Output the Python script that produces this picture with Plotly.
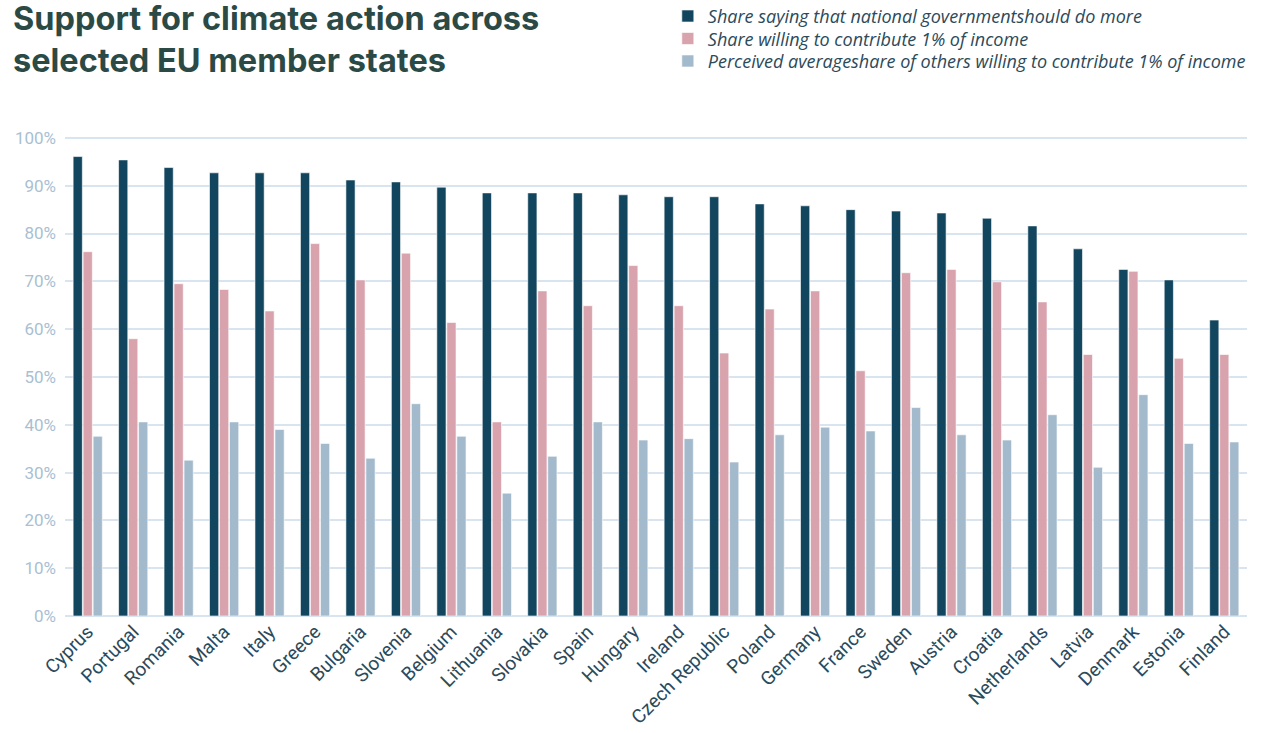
import plotly.graph_objects as go

countries = ["Cyprus", "Portugal", "Romania", "Malta", "Italy", "Greece", "Bulgaria",
             "Slovenia", "Belgium", "Lithuania", "Slovakia", "Spain", "Hungary", "Ireland",
             "Czech Republic", "Poland", "Germany", "France", "Sweden", "Austria", "Croatia",
             "Netherlands", "Latvia", "Denmark", "Estonia", "Finland"]

gov_do_more = [96.1, 95.4, 93.8, 92.7, 92.7, 92.7, 91.2, 90.8, 89.7, 88.5, 88.5, 88.5, 88.1,
               87.7, 87.7, 86.2, 85.8, 85.0, 84.7, 84.3, 83.2, 81.6, 76.8, 72.5, 70.3, 61.9]
willing_1pct = [76.2, 58.0, 69.5, 68.3, 63.8, 77.9, 70.3, 75.9, 61.4, 40.6, 68.0, 64.9, 73.3,
                64.9, 55.0, 64.2, 68.0, 51.3, 71.8, 72.5, 69.9, 65.7, 54.7, 72.1, 53.9, 54.7]
perceived_others = [37.6, 40.6, 32.6, 40.6, 39.0, 36.1, 33.0, 44.4, 37.6, 25.7, 33.4, 40.6, 36.8,
                    37.1, 32.2, 37.9, 39.5, 38.7, 43.6, 37.9, 36.8, 42.1, 31.1, 46.3, 36.1, 36.4]

series_names = ["Share saying that national governmentshould do more",
                "Share willing to contribute 1% of income",
                "Perceived averageshare of others willing to contribute 1% of income"]
series_values = [gov_do_more, willing_1pct, perceived_others]
colors = ["#12455e", "#d9a3ad", "#a3bacc"]
legend_ids = ["legend", "legend2", "legend3"]
legend_y = [1.2879, 1.2410, 1.1942]

y_ticks = [0, 10, 20, 30, 40, 50, 60, 70, 80, 90, 100]
y_tick_labels = [f"{t}%" for t in y_ticks]

fig = go.Figure()
for name, vals, col, lid in zip(series_names, series_values, colors, legend_ids):
    fig.add_trace(go.Bar(
        x=countries, y=vals, name=name, legend=lid,
        marker=dict(color=col, line=dict(color="white", width=0.6)),
    ))

legend_style = dict(
    x=0.510, xref="paper", xanchor="left", yref="paper", yanchor="top",
    font=dict(family="Open Sans", size=18, color="#2b4a5a", style="italic"),
    tracegroupgap=0, itemclick=False, bgcolor="rgba(0,0,0,0)",
)
fig.update_layout(
    width=1265, height=733,
    barmode="group", bargap=0.34, bargroupgap=0.08,
    plot_bgcolor="white", paper_bgcolor="white",
    margin=dict(l=65, r=18, t=136, b=117, autoexpand=False),
    font=dict(family="Roboto", color="#2b4a5a"),
    legend=dict(legend_style, y=legend_y[0]),
    legend2=dict(legend_style, y=legend_y[1]),
    legend3=dict(legend_style, y=legend_y[2]),
    showlegend=True,
)
fig.add_annotation(
    text="Support for climate action across<br>selected EU member states",
    xref="paper", x=-0.046, xanchor="left", yref="paper", y=1.29, yanchor="top",
    align="left", showarrow=False,
    font=dict(family="Inter", size=32.5, color="#2b4a45", weight="bold"),
)
fig.update_xaxes(
    tickangle=-45, tickfont=dict(size=19, color="#2b4a5a"), showgrid=False,
    showline=False, ticks="",
)
fig.update_yaxes(
    range=[0, 100.4], tickvals=y_ticks, ticktext=y_tick_labels,
    tickfont=dict(size=17, color="#a9bfd2"), gridcolor="#d8e4ef", gridwidth=1.5,
    zeroline=True, zerolinecolor="#d8e4ef", zerolinewidth=1.5, ticks="", showline=False,
    ticklabelstandoff=8,
)

fig.write_html("out.html", config={"displayModeBar": False},
               post_script="document.body.style.margin='0';")
